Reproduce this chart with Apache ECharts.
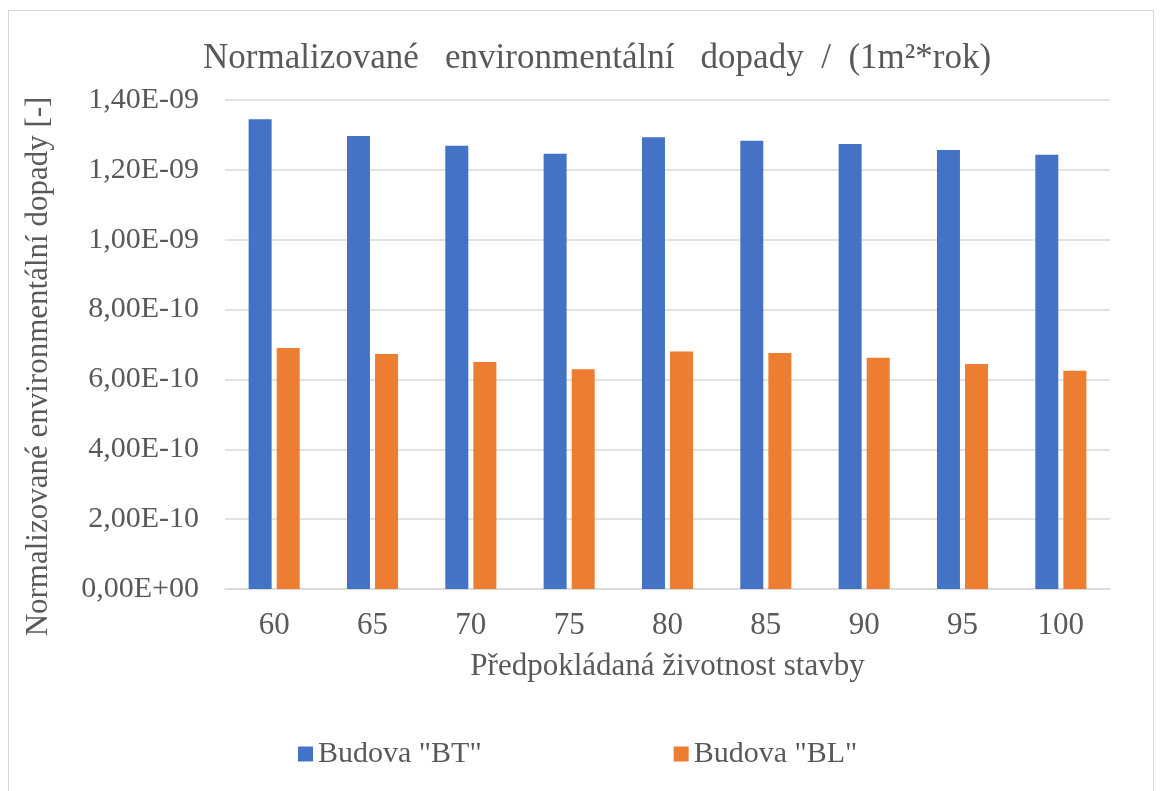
<!DOCTYPE html>
<html>
<head>
<meta charset="utf-8">
<script src="https://cdn.jsdelivr.net/npm/echarts@6/dist/echarts.min.js"></script>
<style>
html,body{margin:0;padding:0;background:#fff;}
#frame{position:absolute;left:8px;top:10px;width:1146px;height:790px;border:1px solid #d9d9d9;box-sizing:border-box;}
#chart{position:absolute;left:0;top:0;width:1163px;height:791px;}
</style>
</head>
<body>
<div id="frame"></div>
<div id="chart"></div>
<script>
const categories = ['60','65','70','75','80','85','90','95','100'];
const seriesBT = [1.345e-9, 1.297e-9, 1.269e-9, 1.246e-9, 1.293e-9, 1.283e-9, 1.274e-9, 1.257e-9, 1.243e-9];
const seriesBL = [6.90e-10, 6.73e-10, 6.50e-10, 6.29e-10, 6.80e-10, 6.76e-10, 6.62e-10, 6.44e-10, 6.25e-10];
const seriesNames = ['Budova "BT"', 'Budova "BL"'];

const FONT = '"Liberation Serif", "Times New Roman", serif';
const TXT = '#595959';

function fmt(v){
  if (v === 0) return '0,00E+00';
  let e = Math.floor(Math.log10(Math.abs(v)) + 1e-9);
  let m = v / Math.pow(10, e);
  if (Math.abs(m - 10) < 1e-6) { m = 1; e += 1; }
  const ms = m.toFixed(2).replace('.', ',');
  const es = (e < 0 ? '-' : '+') + String(Math.abs(e)).padStart(2, '0');
  return ms + 'E' + es;
}

const chart = echarts.init(document.getElementById('chart'), null, {renderer:'canvas'});
chart.setOption({
  animation:false,
  backgroundColor:'transparent',
  title:{
    text:'Normalizované   environmentální   dopady  /  (1m²*rok)',
    left:198, top:36,
    textStyle:{fontFamily:FONT, fontSize:35, fontWeight:'normal', color:TXT}
  },
  legend:{
    data:seriesNames,
    left:293, top:734,
    itemWidth:15, itemHeight:15, itemGap:192,
    icon:'rect',
    textStyle:{fontFamily:FONT, fontSize:30, color:TXT}
  },
  grid:{left:225, right:53, top:100, bottom:202, containLabel:false},
  xAxis:{
    type:'category', data:categories,
    name:'Předpokládaná životnost stavby', nameLocation:'middle', nameGap:62,
    nameTextStyle:{fontFamily:FONT, fontSize:31, color:TXT},
    axisLine:{lineStyle:{color:'#d9d9d9', width:1.5}},
    axisTick:{show:false},
    axisLabel:{fontFamily:FONT, fontSize:31, color:TXT, margin:21}
  },
  yAxis:{
    type:'value', min:0, max:1.4e-9, interval:2e-10,
    name:'Normalizované environmentální dopady [-]', nameLocation:'middle', nameGap:171,
    nameTextStyle:{fontFamily:FONT, fontSize:31, color:TXT, padding:[0, 44, 0, 0]},
    axisLine:{show:false}, axisTick:{show:false},
    splitLine:{lineStyle:{color:'#d9d9d9', width:1.5}},
    axisLabel:{fontFamily:FONT, fontSize:30, color:TXT, margin:26, formatter:fmt}
  },
  series:[
    {name:seriesNames[0], type:'bar', data:seriesBT, barWidth:23, barGap:'22%', itemStyle:{color:'#4472c4'}},
    {name:seriesNames[1], type:'bar', data:seriesBL, barWidth:23, barGap:'22%', itemStyle:{color:'#ed7d31'}}
  ]
});
</script>
</body>
</html>
